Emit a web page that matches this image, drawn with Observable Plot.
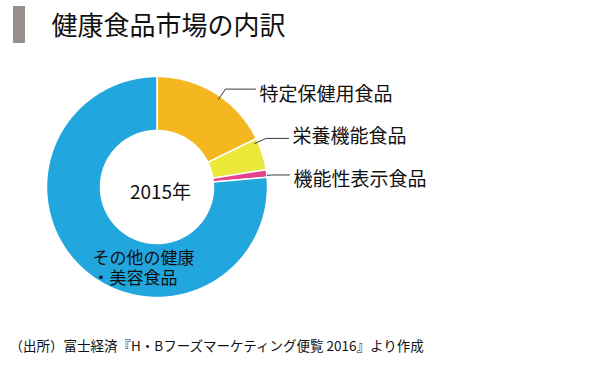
<!DOCTYPE html>
<html>
<head>
<meta charset="utf-8">
<script src="https://cdn.jsdelivr.net/npm/d3@7"></script>
<script src="https://cdn.jsdelivr.net/npm/@observablehq/plot@0.6"></script>
<style>
  body { margin: 0; background: #fff; }
  #wrap { position: relative; width: 590px; height: 367px; overflow: hidden; background: #fff; }
  #bar { position: absolute; left: 13px; top: 6px; width: 12px; height: 37px; background: #978F8C; }
  #wrap svg { position: absolute; left: 0; top: 0; }
</style>
</head>
<body>
<div id="wrap"><div id="bar"></div></div>
<script>
// ---- data ----
const titleText = "健康食品市場の内訳";
const captionText = "（出所）富士経済『H・Bフーズマーケティング便覧 2016』より作成";
const yearLabel = "2015年";
const categories = ["特定保健用食品", "栄養機能食品", "機能性表示食品", "その他の健康・美容食品"];
const shares = [17.8, 4.7, 1.1, 76.4];
const otherLabelLines = ["その他の健康", "・美容食品"];
const palette = ["#F4B71F", "#ECE83A", "#E6408E", "#22A6DE"];

// ---- layout ----
const W = 590, H = 367;
const cx = 156.5, cy = 186.5, R = 110.5, R0 = 56.5;
const font = "'Noto Sans CJK JP', 'Noto Sans', sans-serif";
// outside labels: label x/y, leader anchor angle (deg), start radius, elbow radius
const outLayout = [
  {lx: 259, ly: 94, a: 35, r0: 107, r1: 119.5},
  {lx: 292, ly: 136, a: 66, r0: 107, r1: 119.5},
  {lx: 293, ly: 179, a: 84, r0: 111, r1: 115}
];

const polar = (a, r) => ({x: cx + r * Math.sin(a), y: cy - r * Math.cos(a)});
const arcs = d3.pie().sort(null).value(d => d)(shares);

const slicePts = [];
arcs.forEach((d, i) => {
  const n = Math.max(2, Math.ceil((d.endAngle - d.startAngle) / (Math.PI / 360)) + 1);
  const outer = d3.range(n).map(k => d.startAngle + (d.endAngle - d.startAngle) * k / (n - 1));
  const pts = [];
  outer.forEach(a => pts.push(polar(a, R)));
  outer.slice().reverse().forEach(a => pts.push(polar(a, R0)));
  pts.push(pts[0]);
  pts.forEach(p => slicePts.push({...p, cat: categories[i]}));
});

const leaderPts = [];
const labelRows = [];
outLayout.forEach((L, i) => {
  const a = L.a * Math.PI / 180;
  const p0 = polar(a, L.r0), p1 = polar(a, L.r1);
  leaderPts.push({...p0, cat: categories[i]}, {...p1, cat: categories[i]}, {x: L.lx - 4, y: p1.y, cat: categories[i]});
  labelRows.push({x: L.lx, y: L.ly, text: categories[i]});
});

const chart = Plot.plot({
  width: W, height: H,
  marginTop: 0, marginRight: 0, marginBottom: 0, marginLeft: 0,
  x: {domain: [0, W], range: [0, W], axis: null},
  y: {domain: [0, H], range: [0, H], axis: null},
  color: {domain: categories, range: palette},
  style: {fontFamily: font, background: "transparent", overflow: "visible"},
  marks: [
    Plot.line(slicePts, {x: "x", y: "y", z: "cat", fill: "cat", stroke: "white", strokeWidth: 1.5, curve: "linear"}),
    Plot.line(leaderPts, {x: "x", y: "y", z: "cat", stroke: "#3a3a3a", strokeWidth: 1, curve: "linear"}),
    Plot.text(labelRows, {x: "x", y: "y", text: "text", textAnchor: "start", fontSize: 19, fill: "#111", fontFamily: font}),
    Plot.text([otherLabelLines.join("\n")], {x: () => 92, y: () => 267, text: d => d, textAnchor: "start", lineHeight: 1.18, fontSize: 17, fill: "#111", fontFamily: font}),
    Plot.text([yearLabel], {x: () => 160, y: () => 192, text: d => d, fontSize: 19, fill: "#111", fontFamily: font}),
    Plot.text([titleText], {x: () => 51, y: () => 26, text: d => d, textAnchor: "start", fontSize: 26, fill: "#111", fontFamily: font}),
    Plot.text([captionText], {x: () => 9, y: () => 346, text: d => d, textAnchor: "start", fontSize: 13.5, fill: "#111", fontFamily: font})
  ]
});
document.getElementById("wrap").appendChild(chart);
</script>
</body>
</html>
